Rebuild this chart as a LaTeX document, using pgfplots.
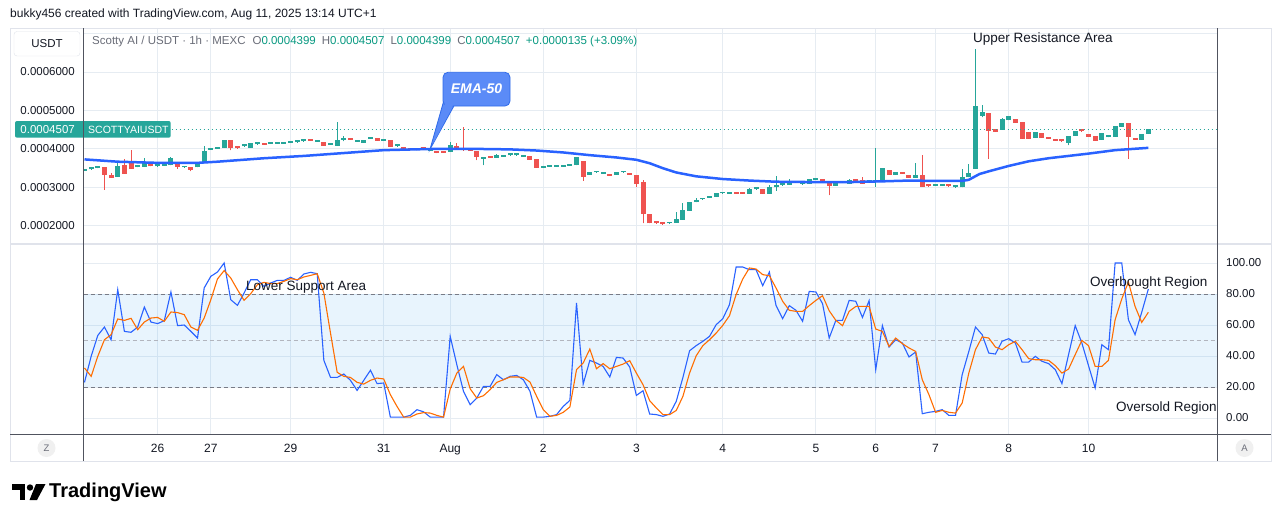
\documentclass[border=0pt]{standalone}
\usepackage{pgfplots}
\pgfplotsset{compat=1.18}
\usepackage{pgfplotstable}
\usepackage{fontspec}
\setmainfont{Liberation Sans}
\definecolor{tvgreen}{HTML}{26A69A}
\definecolor{tvgreenT}{HTML}{089981}
\definecolor{tvred}{HTML}{EF5350}
\definecolor{tvblue}{HTML}{2962FF}
\definecolor{tvorange}{HTML}{FF6D00}
\definecolor{gridc}{HTML}{E6ECF2}
\definecolor{axc}{HTML}{50535E}
\definecolor{txt}{HTML}{131722}
\definecolor{hdr}{HTML}{6A6D78}
\definecolor{bandc}{HTML}{2196F3}
\definecolor{framec}{HTML}{E0E3EB}
\definecolor{dashc}{HTML}{787B86}
\definecolor{dashl}{HTML}{B2B5BE}
\definecolor{emafill}{HTML}{5B8BF7}
\definecolor{emadraw}{HTML}{2F6BEA}

\pgfplotstableread{
i o h l c
0 3.44 3.45 3.44 3.45
1 3.47 3.49 3.47 3.49
2 3.50 3.52 3.50 3.52
3 3.525 3.525 2.935 3.325
4 3.317 3.38 3.255 3.255
5 3.281 3.670 3.281 3.558
6 3.584 3.732 3.358 3.358
7 3.629 3.974 3.481 3.481
8 3.53 3.55 3.53 3.55
9 3.540 3.774 3.540 3.655
10 3.636 3.636 3.551 3.551
11 3.55 3.57 3.55 3.57
12 3.57 3.59 3.57 3.59
13 3.577 3.78 3.577 3.758
14 3.629 3.629 3.481 3.540
15 3.52 3.54 3.52 3.54
16 3.525 3.525 3.421 3.455
17 3.525 3.629 3.525 3.629
18 3.629 4.078 3.629 3.948
19 3.98 4.00 3.98 4.00
20 4.00 4.02 4.00 4.02
21 4.034 4.234 4.034 4.234
22 4.234 4.234 3.966 4.034
23 4.035 4.035 4.025 4.025
24 4.07 4.09 4.07 4.09
25 4.034 4.148 4.034 4.148
26 4.12 4.14 4.12 4.14
27 4.13 4.13 4.11 4.11
28 4.13 4.15 4.13 4.15
29 4.14 4.155 4.14 4.155
30 4.14 4.155 4.14 4.155
31 4.165 4.18 4.165 4.18
32 4.175 4.19 4.175 4.19
33 4.20 4.215 4.20 4.215
34 4.225 4.225 4.21 4.21
35 4.19 4.205 4.19 4.205
36 4.174 4.174 4.086 4.086
37 4.105 4.12 4.105 4.12
38 4.086 4.709 4.086 4.234
39 4.24 4.338 4.200 4.255
40 4.255 4.255 4.24 4.24
41 4.19 4.205 4.19 4.205
42 4.164 4.234 4.164 4.234
43 4.265 4.28 4.265 4.28
44 4.286 4.286 4.216 4.216
45 4.22 4.235 4.22 4.235
46 4.234 4.234 4.060 4.060
47 4.07 4.085 4.07 4.085
48 4.025 4.025 4.01 4.01
49 4.008 4.008 3.966 3.966
50 3.966 3.992 3.966 3.992
51 4.018 4.018 3.992 3.992
52 3.956 3.992 3.956 3.992
53 3.92 3.94 3.896 3.905
54 3.92 3.92 3.905 3.905
55 3.930 4.190 3.930 4.104
56 4.078 4.156 4.000 4.000
57 4.000 4.571 3.956 3.966
58 4.018 4.018 3.956 3.956
59 3.956 3.956 3.714 3.800
60 3.75 3.765 3.584 3.765
61 3.79 3.79 3.775 3.775
62 3.774 3.870 3.774 3.844
63 3.80 3.815 3.80 3.815
64 3.835 3.85 3.835 3.85
65 3.835 3.85 3.835 3.85
66 3.80 3.815 3.80 3.815
67 3.818 3.818 3.722 3.722
68 3.732 3.732 3.514 3.514
69 3.515 3.53 3.515 3.53
70 3.545 3.56 3.545 3.56
71 3.545 3.56 3.545 3.56
72 3.545 3.56 3.545 3.56
73 3.57 3.585 3.57 3.585
74 3.584 3.792 3.584 3.792
75 3.688 3.688 3.177 3.281
76 3.333 3.410 3.333 3.410
77 3.39 3.405 3.39 3.405
78 3.36 3.375 3.36 3.375
79 3.351 3.351 3.306 3.306
80 3.333 3.410 3.333 3.410
81 3.39 3.405 3.39 3.405
82 3.377 3.377 3.333 3.333
83 3.325 3.325 3.021 3.091
84 3.151 3.195 2.070 2.312
85 2.312 2.312 2.065 2.065
86 2.085 2.085 2.07 2.07
87 2.06 2.06 2.045 2.045
88 2.065 2.08 2.065 2.08
89 2.086 2.364 2.086 2.182
90 2.156 2.605 2.156 2.416
91 2.390 2.631 2.390 2.631
92 2.623 2.727 2.623 2.675
93 2.69 2.70 2.69 2.70
94 2.74 2.755 2.74 2.755
95 2.761 2.857 2.761 2.857
96 2.845 2.86 2.845 2.86
97 2.835 2.85 2.835 2.85
98 2.855 2.855 2.84 2.84
99 2.855 2.855 2.84 2.84
100 2.839 2.995 2.839 2.969
101 2.95 2.965 2.95 2.965
102 2.961 2.961 2.839 2.839
103 2.839 3.065 2.839 3.021
104 3.005 3.299 2.917 3.073
105 3.06 3.075 3.06 3.075
106 3.073 3.221 3.073 3.143
107 3.12 3.135 3.12 3.135
108 3.085 3.10 3.085 3.10
109 3.099 3.221 3.099 3.221
110 3.205 3.22 3.205 3.22
111 3.221 3.221 3.151 3.151
112 3.169 3.169 2.805 3.047
113 3.047 3.125 3.047 3.125
114 3.12 3.135 3.12 3.135
115 3.099 3.221 3.099 3.195
116 3.195 3.195 3.18 3.18
117 3.195 3.265 3.099 3.099
118 3.135 3.15 3.135 3.15
119 3.135 4.034 3.021 3.15
120 3.151 3.506 3.151 3.506
121 3.455 3.455 3.325 3.325
122 3.325 3.403 3.325 3.403
123 3.375 3.375 3.36 3.36
124 3.325 3.325 3.255 3.255
125 3.255 3.644 3.255 3.325
126 3.325 3.844 3.021 3.021
127 3.045 3.045 3.03 3.03
128 3.04 3.055 3.04 3.055
129 3.05 3.065 3.05 3.065
130 3.045 3.045 3.03 3.03
131 3.005 3.02 3.005 3.02
132 3.005 3.481 3.005 3.281
133 3.265 3.610 3.265 3.384
134 3.488 6.590 3.488 5.117
135 4.865 5.143 4.823 4.969
136 4.943 4.943 3.748 4.475
137 4.527 4.527 4.449 4.449
138 4.494 4.813 4.494 4.787
139 4.753 4.857 4.753 4.857
140 4.787 4.787 4.683 4.683
141 4.709 4.709 4.268 4.268
142 4.434 4.434 4.268 4.268
143 4.294 4.434 4.294 4.434
144 4.408 4.408 4.294 4.294
145 4.285 4.285 4.27 4.27
146 4.260 4.260 4.216 4.216
147 4.215 4.215 4.20 4.20
148 4.164 4.338 4.096 4.338
149 4.338 4.468 4.338 4.468
150 4.475 4.475 4.46 4.46
151 4.382 4.382 4.319 4.319
152 4.338 4.338 4.216 4.216
153 4.242 4.408 4.242 4.408
154 4.31 4.325 4.31 4.325
155 4.319 4.597 4.319 4.597
156 4.579 4.668 4.579 4.668
157 4.668 4.668 3.748 4.319
158 4.286 4.286 4.242 4.242
159 4.234 4.382 4.234 4.382
160 4.399 4.507 4.399 4.507
}\candles

\pgfplotstableread{
i e
0 3.73
5 3.67
11 3.64
17 3.64
20 3.67
27 3.76
33 3.82
37 3.87
45 3.97
52 4.00
60 4.00
64 3.99
68 3.96
72 3.91
76 3.84
80 3.78
83 3.72
85 3.63
87 3.50
89 3.39
92 3.29
96 3.22
100 3.18
104 3.15
110 3.14
115 3.14
120 3.16
124 3.18
128 3.17
132 3.17
133 3.20
134.6 3.35
136 3.42
139 3.56
142 3.68
145 3.76
151 3.88
155 3.97
160 4.03
}\ema

\pgfplotstableread{
i k d
0 23 32.3
1 39.8 26.9
2 53.3 39.8
3 58.7 50.5
4 50.5 53.8
5 82.8 63.9
6 55.9 63
7 55.3 64.3
8 58.7 57
9 71.6 61.9
10 61.9 64.5
11 60.9 64.9
12 62.8 62.4
13 81.3 68.4
14 59.6 68
15 60 66.7
16 55.9 58.7
17 51.6 56.6
18 83.9 64.5
19 91.4 76.3
20 94.2 89.7
21 100 95.1
22 76.3 90.3
23 72.7 82.8
24 80.6 75.9
25 89.2 80.2
26 89.2 86
27 84.9 87.5
28 87.1 86.7
29 88.8 86.7
30 88.8 88.2
31 90.8 89.9
32 88.8 89.2
33 92.9 91
34 94 92
35 93.1 93.1
36 37.2 80.6
37 26.2 54.8
38 26.2 29.5
39 28.4 26.9
40 24.3 26.2
41 17.8 23
42 24.3 21.9
43 30.8 24.3
44 22.2 25.8
45 22.6 25.2
46 0.6 15.1
47 0.6 7.5
48 0.6 0.6
49 1.7 0.6
50 5.4 2.6
51 4 3.5
52 0.6 3.2
53 0.6 1.7
54 0.6 0.6
55 52.7 18.7
56 34.4 29
57 17.2 33.3
58 8.6 18.9
59 12.9 12.9
60 20.4 14.4
61 20.4 18.3
62 28 23
63 24.7 24.7
64 26.9 26.5
65 27.5 26.5
66 24.7 26.2
67 17.2 23.2
68 0.6 14
69 0.6 5.4
70 1.1 1.1
71 2.2 1.7
72 7.5 3.7
73 11.4 7.1
74 74.2 31.2
75 21.9 35.5
76 37.2 44.5
77 35.5 31.8
78 33.3 35.1
79 26.5 31.8
80 39.1 33.3
81 38.7 34.8
82 32.9 37
83 14.6 29
84 17.6 21.5
85 2.6 11.2
86 2.2 6.5
87 1.1 2.2
88 2.6 2.2
89 10.8 4.9
90 26.2 14
91 43.4 29
92 46.7 40.2
93 49.5 46.7
94 52.7 50.5
95 60.2 54.8
96 64.1 59.8
97 73.1 66
98 97.4 79.6
99 97.4 89.7
100 95.7 96.8
101 95.7 96.1
102 85.4 92.5
103 94.2 91.8
104 72.7 83.9
105 64.1 75.3
106 72.5 69.5
107 69.5 68.8
108 62.4 68.8
109 81.7 72.5
110 81.3 75.9
111 73.8 78.9
112 51.6 69.2
113 63 63
114 63 59.6
115 75.9 68.8
116 75.3 72
117 64.9 72
118 75.7 72
119 31.2 57.4
120 59.6 55.9
121 45.8 46.2
122 50.5 51.6
123 48.4 48
124 39.4 45.2
125 42.6 43
126 2.8 24.7
127 3.7 15.1
128 4.3 3.7
129 5.4 4.9
130 1.7 3.7
131 1.7 3.2
132 28 9.7
133 43 29
134 58.7 44.1
135 53.8 52.3
136 41.9 51.6
137 41.3 45.8
138 49.5 44.1
139 51.2 47.3
140 48.4 49.5
141 36.1 44.1
142 36.1 38.3
143 39.8 37.6
144 36.6 37.6
145 35.1 37.2
146 31.2 33.8
147 22.2 29
148 40.9 31.6
149 59.6 40.9
150 48.4 50.1
151 33.8 46.7
152 19.4 33.3
153 47.3 33.3
154 44.1 37.2
155 100 63.4
156 100 76.8
157 63.4 87.7
158 53.8 72
159 68.2 61.7
160 83.2 68.2
}\stoch

\pgfplotsset{tvaxis/.style={
  scale only axis, width=1134pt, xmin=-0.15, xmax=170.4,
  axis line style={draw=none}, major tick length=0pt,
  grid=major, major grid style={draw=gridc, line width=1pt},
  xtick={11,19,31,45,55,69,83,96,110,119,128,139,151},
},
candle/.style 2 args={only marks, mark=*, mark size=0pt, mark options={draw=none, fill=none}, forget plot,
  error bars/.cd, y dir=plus, y explicit, error mark=none,
  error bar style={draw=#1, line width=#2}}
}

\begin{document}
\begin{tikzpicture}[x=1pt,y=1pt]
\fill[white] (0,0) rectangle (1281,-522);

% ---------- price panel ----------
\begin{axis}[tvaxis, at={(83.5pt,-28pt)}, anchor=north west, height=215pt,
  ymin=1.558, ymax=7.143,
  xticklabels={},
  ytick={2,3,4,5,6,7},
  yticklabels={0.0002000,0.0003000,0.0004000,0.0005000,0.0006000,{}},
  yticklabel style={anchor=east, inner sep=0pt, xshift=-8.5pt, text=txt, font=\fontsize{11.5}{13}\selectfont}]
% wicks
\addplot[candle={tvgreen}{1pt}]
  table[x expr={\thisrow{c}>=\thisrow{o} ? \thisrow{i} : nan}, y=l,
        y error plus expr={\thisrow{h}-\thisrow{l}}] {\candles};
\addplot[candle={tvred}{1pt}]
  table[x expr={\thisrow{c}<\thisrow{o} ? \thisrow{i} : nan}, y=l,
        y error plus expr={\thisrow{h}-\thisrow{l}}] {\candles};
% bodies
\addplot[candle={tvgreen}{5pt}]
  table[x expr={\thisrow{c}>=\thisrow{o} ? \thisrow{i} : nan},
        y expr={min(\thisrow{o},\thisrow{c})},
        y error plus expr={max(abs(\thisrow{c}-\thisrow{o}),0.05)}] {\candles};
\addplot[candle={tvred}{5pt}]
  table[x expr={\thisrow{c}<\thisrow{o} ? \thisrow{i} : nan},
        y expr={min(\thisrow{o},\thisrow{c})},
        y error plus expr={max(abs(\thisrow{c}-\thisrow{o}),0.05)}] {\candles};
% EMA-50
\addplot[tvblue, line width=2.5pt] table[x=i, y=e] {\ema};
% last price line
\addplot[tvgreen, line width=1pt, dash pattern=on 1pt off 3pt] coordinates {(-0.15,4.507) (170.4,4.507)};
\end{axis}

% ---------- stochastic panel ----------
\begin{axis}[tvaxis, at={(83.5pt,-434pt)}, anchor=south west, height=191pt,
  ymin=-10.3, ymax=112.9,
  ytick={0,20,40,60,80,100},
  yticklabels={0.00,20.00,40.00,60.00,80.00,100.00},
  yticklabel pos=right,
  yticklabel style={anchor=west, inner sep=0pt, xshift=8.5pt, text=txt, font=\fontsize{11.5}{13}\selectfont},
  xticklabels={26,27,29,31,Aug,2,3,4,5,6,7,8,10},
  xticklabel style={anchor=base, inner sep=0pt, yshift=-18pt, text=txt, font=\fontsize{12}{14}\selectfont}]
\addplot[fill=bandc, fill opacity=0.1, draw=none]
  coordinates {(-0.15,20) (170.4,20) (170.4,80) (-0.15,80)} -- cycle;
\addplot[dashc, line width=1pt, dash pattern=on 4pt off 3pt] coordinates {(-0.15,80) (170.4,80)};
\addplot[dashc, line width=1pt, dash pattern=on 4pt off 3pt] coordinates {(-0.15,20) (170.4,20)};
\addplot[dashl, line width=1pt, dash pattern=on 4pt off 3pt] coordinates {(-0.15,50) (170.4,50)};
\addplot[tvblue, line width=1.1pt] table[x=i, y=k] {\stoch};
\addplot[tvorange, line width=1.1pt] table[x=i, y=d] {\stoch};
\end{axis}

% ---------- frame ----------
\draw[framec, line width=1pt] (10,-28) rectangle (1271,-461);
\draw[framec, line width=2pt] (10,-243.5) -- (1271,-243.5);

% current price label
\fill[tvgreen, rounded corners=2pt] (15,-121) rectangle (170.7,-137.7);
\node[anchor=east, inner sep=0, text=white, font=\fontsize{11.5}{13}\selectfont] at (75,-129.4) {0.0004507};
\node[anchor=west, inner sep=0, text=white, font=\fontsize{10.5}{12}\selectfont] at (88,-129.4) {SCOTTYAIUSDT};

\draw[axc, line width=1pt] (83.5,-28) -- (83.5,-461);
\draw[axc, line width=1pt] (1217.5,-28) -- (1217.5,-461);
\draw[axc, line width=1pt] (10,-434) -- (1271,-434);

% header
\node[anchor=west, inner sep=0, text=txt, font=\fontsize{12}{14}\selectfont] at (10,-14)
  {bukky456 created with TradingView.com, Aug 11, 2025 13:14 UTC+1};
\draw[framec, fill=white, rounded corners=3pt] (14,-31.5) rectangle (80,-56);
\node[text=txt, font=\fontsize{11.5}{13}\selectfont] at (47,-44) {USDT};
\node[anchor=west, inner sep=0, font=\fontsize{11.5}{13}\selectfont] at (92,-42)
  {\textcolor{hdr}{Scotty AI / USDT · 1h · MEXC}\hspace{7pt}\textcolor{hdr}{O}\textcolor{tvgreenT}{0.0004399}\hspace{6pt}\textcolor{hdr}{H}\textcolor{tvgreenT}{0.0004507}\hspace{6pt}\textcolor{hdr}{L}\textcolor{tvgreenT}{0.0004399}\hspace{6pt}\textcolor{hdr}{C}\textcolor{tvgreenT}{0.0004507}\hspace{6pt}\textcolor{tvgreenT}{+0.0000135 (+3.09\%)}};

% EMA callout
\filldraw[emadraw, fill=emafill, line width=0.8pt] (430,-149.3) -- (444,-100) -- (455,-104) -- cycle;
\filldraw[emadraw, fill=emafill, line width=0.8pt, rounded corners=5pt] (443,-72.3) rectangle (510,-106);
\fill[emafill] (445,-103) -- (454,-103) -- (433,-144) -- cycle;
\node[text=white, font=\bfseries\itshape\fontsize{14}{16}\selectfont] at (476.5,-89) {EMA-50};

% annotations
\node[anchor=west, inner sep=0, text=txt, font=\fontsize{13.5}{15}\selectfont] at (973,-39.5) {Upper Resistance Area};
\node[anchor=west, inner sep=0, text=txt, font=\fontsize{13.5}{15}\selectfont] at (246,-287) {Lower Support Area};
\node[anchor=west, inner sep=0, text=txt, font=\fontsize{13.5}{15}\selectfont] at (1090,-283) {Overbought Region};
\node[anchor=west, inner sep=0, text=txt, font=\fontsize{13.5}{15}\selectfont] at (1116,-408) {Oversold Region};

% bottom controls
\fill[black!6] (46.5,-448) circle (9);
\node[text=hdr, font=\fontsize{9.5}{11}\selectfont] at (46.5,-448) {Z};
\fill[black!6] (1244.5,-448) circle (9);
\node[text=hdr, font=\fontsize{9.5}{11}\selectfont] at (1244.5,-448) {A};

% TradingView logo
\fill[black] (12,-484) rectangle (25,-489.5);
\fill[black] (19.5,-484) rectangle (25,-500);
\fill[black] (30,-487.5) circle (3.2);
\fill[black] (36,-484) -- (45.5,-484) -- (37,-500) -- (29.5,-500) -- cycle;
\node[anchor=west, inner sep=0, text=black, font=\bfseries\fontsize{20}{22}\selectfont] at (49,-492) {TradingView};
\end{tikzpicture}
\end{document}
